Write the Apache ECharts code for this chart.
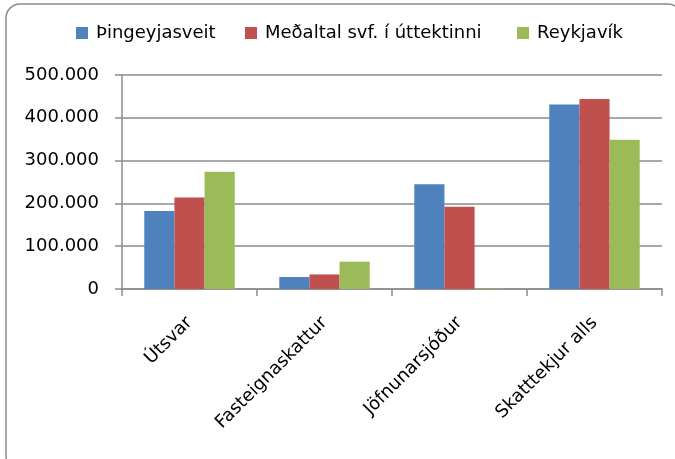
<!DOCTYPE html>
<html>
<head>
<meta charset="utf-8">
<script src="https://cdn.jsdelivr.net/npm/echarts@6/dist/echarts.min.js"></script>
<style>
  html, body { margin: 0; padding: 0; background: #fff; }
  #chart { width: 675px; height: 459px; }
</style>
</head>
<body>
<div id="chart"></div>
<script>
// Skatttekjur á íbúa: Þingeyjasveit borið saman við meðaltal og Reykjavík
const categories = ['Útsvar', 'Fasteignaskattur', 'Jöfnunarsjóður', 'Skatttekjur alls'];
const seriesNames = ['Þingeyjasveit', 'Meðaltal svf. í úttektinni', 'Reykjavík'];
const thingeyjarsveit = [182000, 28000, 245000, 431000];
const medaltal = [214000, 34000, 192000, 444000];
const reykjavik = [274000, 64000, 1000, 349000];
const colors = ['#4F81BD', '#C0504D', '#9BBB59'];

const FONT = 'DejaVu Sans';

function thousands(v) {
  return String(v).replace(/\B(?=(\d{3})+(?!\d))/g, '.');
}

const chart = echarts.init(document.getElementById('chart'), null, { renderer: 'canvas' });

const values = [thingeyjarsveit, medaltal, reykjavik];

// one legend entry per series, each placed on its own
const legendLefts = [76, 245, 517];
const legends = seriesNames.map((name, i) => ({
  top: 24,
  left: legendLefts[i],
  padding: 0,
  itemWidth: 12,
  itemHeight: 12,
  icon: 'rect',
  textStyle: { fontFamily: FONT, fontSize: 18, color: '#000', padding: [0, 0, 0, 3] },
  data: [name]
}));

chart.setOption({
  animation: false,
  backgroundColor: '#ffffff',
  color: colors,
  graphic: [{
    type: 'rect',
    shape: { x: 6, y: 4, width: 676, height: 466, r: 14 },
    style: { fill: 'none', stroke: '#8c8c8c', lineWidth: 1.5 },
    z: 100,
    silent: true
  }],
  legend: legends,
  grid: { left: 122, right: 13, top: 75, bottom: 170, containLabel: false },
  xAxis: {
    type: 'category',
    data: categories,
    boundaryGap: true,
    axisLine: { lineStyle: { color: '#8c8c8c', width: 1.5 } },
    axisTick: { show: true, length: 7, lineStyle: { color: '#8c8c8c', width: 1.5 } },
    axisLabel: {
      rotate: 45,
      margin: 31,
      fontFamily: FONT,
      fontSize: 18,
      color: '#000',
      interval: 0
    }
  },
  yAxis: {
    type: 'value',
    min: 0,
    max: 500000,
    interval: 100000,
    axisLine: { show: true, lineStyle: { color: '#8c8c8c', width: 1.5 } },
    axisTick: { show: true, length: 7, lineStyle: { color: '#8c8c8c', width: 1.5 } },
    splitLine: { lineStyle: { color: '#8c8c8c', width: 1.5 } },
    axisLabel: {
      margin: 23,
      fontFamily: FONT,
      fontSize: 18,
      color: '#000',
      formatter: thousands
    }
  },
  series: seriesNames.map((name, i) => ({
    name: name,
    type: 'bar',
    data: values[i],
    barGap: '0%',
    barCategoryGap: '33%',
    itemStyle: { color: colors[i] }
  }))
});
</script>
</body>
</html>
